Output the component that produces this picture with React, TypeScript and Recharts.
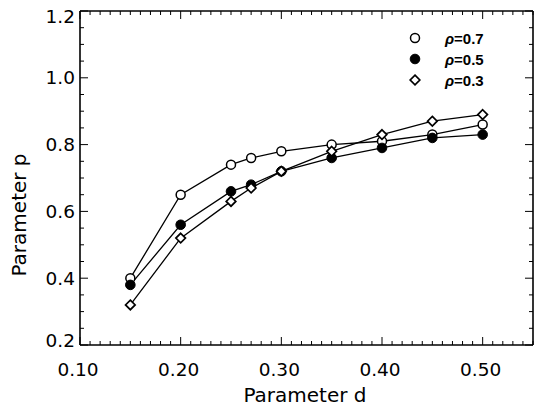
import { LineChart, Line, XAxis, YAxis, Legend } from "recharts";

// parameter d values (x)
const dValues = [0.15, 0.2, 0.25, 0.27, 0.3, 0.35, 0.4, 0.45, 0.5];

// parameter p for each rho
const rho07 = [0.4, 0.65, 0.74, 0.76, 0.78, 0.8, 0.81, 0.83, 0.86];
const rho05 = [0.38, 0.56, 0.66, 0.68, 0.72, 0.76, 0.79, 0.82, 0.83];
const rho03 = [0.32, 0.52, 0.63, 0.67, 0.72, 0.78, 0.83, 0.87, 0.89];

const xMajor = [0.1, 0.2, 0.3, 0.4, 0.5];
const yMajor = [0.2, 0.4, 0.6, 0.8, 1.0, 1.2];
const xMinorStep = 0.01;
const yMinorStep = 0.05;

const legendLabels = ["\u03c1=0.7", "\u03c1=0.5", "\u03c1=0.3"];

const data = dValues.map((d, i) => ({ d, r07: rho07[i], r05: rho05[i], r03: rho03[i] }));

const steps = (from: number, to: number, step: number) => {
  const out: number[] = [];
  for (let v = from; v <= to + 1e-9; v += step) out.push(Math.round(v * 1000) / 1000);
  return out;
};
const xTicks = steps(0.1, 0.55, xMinorStep);
const yTicks = steps(0.2, 1.2, yMinorStep);

const isMajor = (v: number, list: number[]) => list.some((m) => Math.abs(m - v) < 1e-6);

const FONT = "'DejaVu Sans', sans-serif";

const BottomTick = ({ x, y, payload }: any) => {
  const major = isMajor(payload.value, xMajor);
  return (
    <g>
      <line x1={x} x2={x} y1={y} y2={y - (major ? 8 : 4)} stroke="#000" strokeWidth={1} />
      {major && (
        <text x={x - 2} y={y + 31} textAnchor="middle" fontSize={18.5} fontFamily={FONT} fill="#000">
          {payload.value.toFixed(2)}
        </text>
      )}
    </g>
  );
};

const TopTick = ({ x, y, payload }: any) => {
  const major = isMajor(payload.value, xMajor);
  return <line x1={x} x2={x} y1={y} y2={y + (major ? 8 : 4)} stroke="#000" strokeWidth={1} />;
};

const LeftTick = ({ x, y, payload }: any) => {
  const v = payload.value;
  const major = isMajor(v, yMajor);
  // end labels are nudged inside the frame
  const nudge = Math.abs(v - 1.2) < 1e-6 ? 5 : Math.abs(v - 0.2) < 1e-6 ? -5 : 0;
  return (
    <g>
      <line x1={x} x2={x + (major ? 8 : 4)} y1={y} y2={y} stroke="#000" strokeWidth={1} />
      {major && (
        <text x={x - 5} y={y + nudge + 6.5} textAnchor="end" fontSize={18.5} fontFamily={FONT} fill="#000">
          {v.toFixed(1)}
        </text>
      )}
    </g>
  );
};

const RightTick = ({ x, y, payload }: any) => {
  const major = isMajor(payload.value, yMajor);
  return <line x1={x} x2={x - (major ? 8 : 4)} y1={y} y2={y} stroke="#000" strokeWidth={1} />;
};

const OpenDot = ({ cx, cy }: any) => (
  <circle cx={cx} cy={cy} r={4.5} fill="#fff" stroke="#000" strokeWidth={1.5} />
);
const FilledDot = ({ cx, cy }: any) => <circle cx={cx} cy={cy} r={4.8} fill="#000" stroke="#000" />;
const Diamond = ({ cx, cy }: any) => (
  <path
    d={`M${cx},${cy - 4.8}L${cx + 4.8},${cy}L${cx},${cy + 4.8}L${cx - 4.8},${cy}Z`}
    fill="#fff"
    stroke="#000"
    strokeWidth={1.7}
  />
);

const markers = [OpenDot, FilledDot, Diamond];

const LegendBox = () => (
  <svg width={130} height={64}>
    {legendLabels.map((label, i) => {
      const M = markers[i];
      const cy = 10 + i * 21;
      return (
        <g key={label}>
          <M cx={10} cy={cy} />
          <text x={40} y={cy + 5.5} fontSize={15} fontWeight="bold" fontFamily="'Liberation Sans', Arial, sans-serif" fill="#000">
            <tspan fontStyle="italic">{label.slice(0, 1)}</tspan>
            {label.slice(1)}
          </text>
        </g>
      );
    })}
  </svg>
);

const axisLine = { stroke: "#000", strokeWidth: 1.6 };

export default function App() {
  return (
    <div style={{ position: "absolute", left: 0, top: 0, width: 536, height: 407, background: "#fff" }}>
      <LineChart width={536} height={407} data={data} margin={{ top: 10, right: 2, bottom: 61, left: 79 }}>
        <XAxis
          dataKey="d"
          type="number"
          domain={[0.1, 0.55]}
          ticks={xTicks}
          interval={0}
          height={1}
          tickSize={0}
          tickMargin={0}
          axisLine={axisLine}
          tick={<BottomTick />}
          allowDataOverflow
        />
        <XAxis
          xAxisId="top"
          orientation="top"
          dataKey="d"
          type="number"
          domain={[0.1, 0.55]}
          ticks={xTicks}
          interval={0}
          height={1}
          tickSize={0}
          tickMargin={0}
          axisLine={axisLine}
          tick={<TopTick />}
          allowDataOverflow
        />
        <YAxis
          type="number"
          domain={[0.2, 1.2]}
          ticks={yTicks}
          interval={0}
          width={1}
          tickSize={0}
          tickMargin={0}
          axisLine={axisLine}
          tick={<LeftTick />}
          allowDataOverflow
        />
        <YAxis
          yAxisId="right"
          orientation="right"
          type="number"
          domain={[0.2, 1.2]}
          ticks={yTicks}
          interval={0}
          width={1}
          tickSize={0}
          tickMargin={0}
          axisLine={axisLine}
          tick={<RightTick />}
          allowDataOverflow
        />
        <Legend
          layout="vertical"
          align="center"
          verticalAlign="middle"
          wrapperStyle={{ position: "absolute", left: 405, top: 28, width: 130, height: 64 }}
          content={() => <LegendBox />}
        />
        <Line
          dataKey="r07"
          name={legendLabels[0]}
          type="linear"
          stroke="#000"
          strokeWidth={1.3}
          dot={(p: any) => <OpenDot key={`a${p.index}`} cx={p.cx} cy={p.cy} />}
          activeDot={false}
          isAnimationActive={false}
        />
        <Line
          dataKey="r05"
          name={legendLabels[1]}
          type="linear"
          stroke="#000"
          strokeWidth={1.3}
          dot={(p: any) => <FilledDot key={`b${p.index}`} cx={p.cx} cy={p.cy} />}
          activeDot={false}
          isAnimationActive={false}
        />
        <Line
          dataKey="r03"
          name={legendLabels[2]}
          type="linear"
          stroke="#000"
          strokeWidth={1.3}
          dot={(p: any) => <Diamond key={`c${p.index}`} cx={p.cx} cy={p.cy} />}
          activeDot={false}
          isAnimationActive={false}
        />
      </LineChart>
      <div
        style={{
          position: "absolute",
          left: 0,
          top: 385,
          width: 610,
          textAlign: "center",
          fontFamily: FONT,
          fontSize: 20,
          lineHeight: "20px",
          color: "#000",
        }}
      >
        Parameter d
      </div>
      <div
        style={{
          position: "absolute",
          left: 19,
          top: 215,
          transform: "translate(-50%, -50%) rotate(-90deg)",
          fontFamily: FONT,
          fontSize: 20,
          lineHeight: "20px",
          whiteSpace: "nowrap",
          color: "#000",
        }}
      >
        Parameter p
      </div>
    </div>
  );
}
